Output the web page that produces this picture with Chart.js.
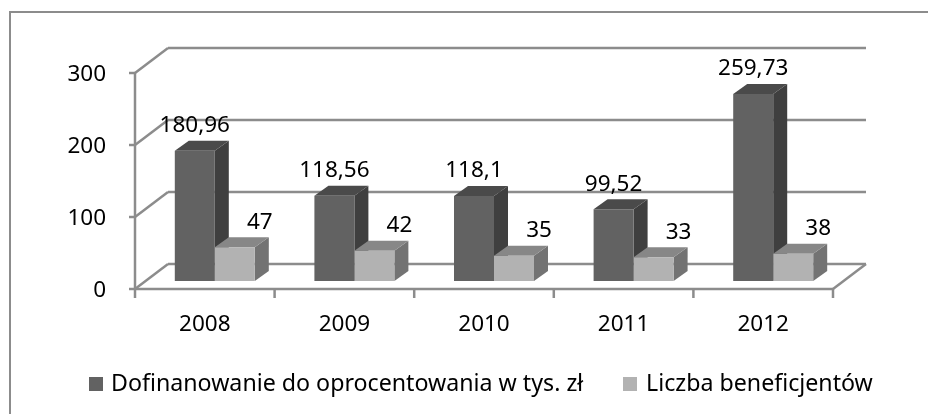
<!DOCTYPE html>
<html>
<head>
<meta charset="utf-8">
<script src="https://cdn.jsdelivr.net/npm/chart.js@4"></script>
<style>
  html, body { margin: 0; padding: 0; background: #fff; }
  #wrap { width: 928px; height: 414px; }
</style>
</head>
<body>
<div id="wrap"><canvas id="chart" width="928" height="414"></canvas></div>
<script>
const years = ['2008', '2009', '2010', '2011', '2012'];
const dofinansowanie = [180.96, 118.56, 118.1, 99.52, 259.73];
const beneficjenci = [47, 42, 35, 33, 38];
const yTicks = [0, 100, 200, 300];

const fontName = '"Noto Sans", "Open Sans", sans-serif';
const gridColor = '#8c8c8c';

// perspective offsets of the fake 3D box
const wall = { x: 33, y: -25 };
const barShift = { x: 10, y: -8 };
const barDepth = { x: 14, y: -10 };

// legend: x of each swatch, x of each text, common centre line
const legendBoxX = [89, 623];
const legendTextX = [111, 646];
const legendY = 384;

function shade(ctx, pts, color) {
  ctx.fillStyle = color;
  ctx.beginPath();
  pts.forEach((p, i) => i ? ctx.lineTo(p[0], p[1]) : ctx.moveTo(p[0], p[1]));
  ctx.closePath();
  ctx.fill();
}

function line(ctx, x1, y1, x2, y2) {
  ctx.beginPath();
  ctx.moveTo(x1, y1);
  ctx.lineTo(x2, y2);
  ctx.stroke();
}

const box3d = {
  id: 'box3d',
  beforeDatasetsDraw(chart) {
    const { ctx } = chart;
    const x = chart.scales.x;
    const y = chart.scales.y;
    const left = x.left, right = x.right, bottom = y.bottom;
    ctx.save();
    ctx.strokeStyle = gridColor;
    ctx.lineWidth = 2;
    // outer frame, its other two sides are off the picture
    line(ctx, 10, 414, 10, 12);
    line(ctx, 9, 12, 928, 12);
    ctx.lineWidth = 2.5;
    // back wall lines and their slanted ends
    yTicks.forEach(v => {
      const py = y.getPixelForValue(v);
      line(ctx, left + wall.x, py + wall.y, right + wall.x, py + wall.y);
      line(ctx, left, py, left + wall.x, py + wall.y);
      line(ctx, left - 6, py, left, py);
    });
    // axes and floor
    line(ctx, left, y.top, left, bottom);
    line(ctx, left, bottom, right, bottom);
    line(ctx, right, bottom, right + wall.x, bottom + wall.y);
    for (let i = 0; i <= years.length; i++) {
      const px = left + (right - left) * i / years.length;
      line(ctx, px, bottom, px, bottom + 9);
    }
    ctx.restore();
    // bars sit in the middle of the floor
    ctx.save();
    ctx.translate(barShift.x, barShift.y);
    // side and top faces go first, dark series before light one
    chart.data.datasets.forEach((ds, i) => {
      chart.getDatasetMeta(i).data.forEach(bar => {
        const l = bar.x - bar.width / 2, r = bar.x + bar.width / 2;
        const t = bar.y, b = bar.base;
        shade(ctx, [[r, t], [r + barDepth.x, t + barDepth.y], [r + barDepth.x, b + barDepth.y], [r, b]], ds.sideColor);
        shade(ctx, [[l, t], [l + barDepth.x, t + barDepth.y], [r + barDepth.x, t + barDepth.y], [r, t]], ds.topColor);
      });
    });
  },
  afterDatasetsDraw(chart) {
    chart.ctx.restore();
  },
  afterDraw(chart) {
    const { ctx } = chart;
    ctx.save();
    ctx.font = '22.5px ' + fontName;
    ctx.fillStyle = '#000';
    ctx.textAlign = 'center';
    ctx.textBaseline = 'middle';
    chart.data.datasets.forEach((ds, i) => {
      chart.getDatasetMeta(i).data.forEach((bar, j) => {
        const label = String(ds.data[j]).replace('.', ',');
        ctx.fillText(label, bar.x + ds.labelShift.x, bar.y + ds.labelShift.y);
      });
    });
    // legend
    ctx.font = '23.2px ' + fontName;
    ctx.textAlign = 'left';
    chart.data.datasets.forEach((ds, i) => {
      ctx.fillStyle = ds.backgroundColor;
      ctx.fillRect(legendBoxX[i], legendY - 7, 14, 14);
      ctx.fillStyle = '#000';
      ctx.fillText(ds.label, legendTextX[i], legendY);
    });
    ctx.restore();
  }
};

new Chart(document.getElementById('chart'), {
  type: 'bar',
  data: {
    labels: years,
    datasets: [
      {
        label: 'Dofinanowanie do oprocentowania w tys. zł',
        data: dofinansowanie,
        backgroundColor: '#626262',
        sideColor: '#3f3f3f',
        topColor: '#4a4a4a',
        labelShift: { x: 10, y: -33 }
      },
      {
        label: 'Liczba beneficjentów',
        data: beneficjenci,
        backgroundColor: '#b2b2b2',
        sideColor: '#737373',
        topColor: '#878787',
        labelShift: { x: 35, y: -33 }
      }
    ]
  },
  options: {
    responsive: false,
    animation: false,
    events: [],
    layout: { padding: { left: 0, right: 95, top: 73, bottom: 0 } },
    plugins: {
      tooltip: { enabled: false },
      legend: { display: false }
    },
    datasets: { bar: { categoryPercentage: 0.573, barPercentage: 1, borderWidth: 0 } },
    scales: {
      x: {
        grid: { display: false },
        border: { display: false },
        afterFit(s) { s.height = 125; },
        ticks: { color: '#000', padding: 14, maxRotation: 0, font: { family: fontName, size: 22.5 } }
      },
      y: {
        min: 0,
        max: 300,
        afterFit(s) { s.width = 135; },
        grid: { display: false },
        border: { display: false },
        afterBuildTicks(s) { s.ticks = yTicks.map(v => ({ value: v })); },
        ticks: { color: '#000', padding: 21, labelOffset: 2, font: { family: fontName, size: 22.5 } }
      }
    }
  },
  plugins: [box3d]
});
</script>
</body>
</html>
